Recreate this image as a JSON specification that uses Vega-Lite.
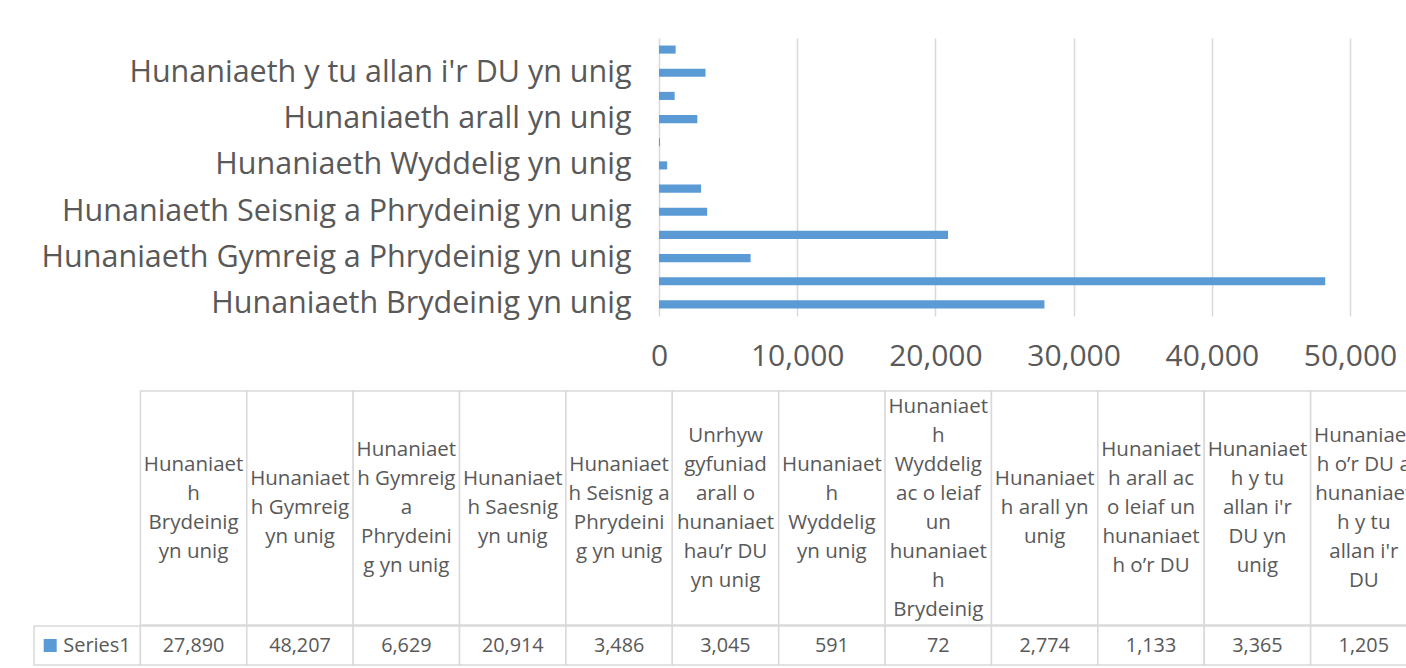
{
  "$schema": "https://vega.github.io/schema/vega-lite/v6.json",
  "padding": {"left": 33, "top": 38, "right": 0, "bottom": 0},
  "config": {
    "view": {"stroke": null},
    "font": "Open Sans"
  },
  "datasets": {
    "main": [
      {"col": 1, "name": "Hunaniaeth Brydeinig yn unig", "header": "Hunaniaet\nh\nBrydeinig\nyn unig", "value": 27890},
      {"col": 2, "name": "Hunaniaeth Gymreig yn unig", "header": "Hunaniaet\nh Gymreig\nyn unig", "value": 48207},
      {"col": 3, "name": "Hunaniaeth Gymreig a Phrydeinig yn unig", "header": "Hunaniaet\nh Gymreig\na\nPhrydeini\ng yn unig", "value": 6629},
      {"col": 4, "name": "Hunaniaeth Saesnig yn unig", "header": "Hunaniaet\nh Saesnig\nyn unig", "value": 20914},
      {"col": 5, "name": "Hunaniaeth Seisnig a Phrydeinig yn unig", "header": "Hunaniaet\nh Seisnig a\nPhrydeini\ng yn unig", "value": 3486},
      {"col": 6, "name": "Unrhyw gyfuniad arall o hunaniaethau’r DU yn unig", "header": "Unrhyw\ngyfuniad\narall o\nhunaniaet\nhau’r DU\nyn unig", "value": 3045},
      {"col": 7, "name": "Hunaniaeth Wyddelig yn unig", "header": "Hunaniaet\nh\nWyddelig\nyn unig", "value": 591},
      {"col": 8, "name": "Hunaniaeth Wyddelig ac o leiaf un hunaniaeth Brydeinig", "header": "Hunaniaet\nh\nWyddelig\nac o leiaf\nun\nhunaniaet\nh\nBrydeinig", "value": 72},
      {"col": 9, "name": "Hunaniaeth arall yn unig", "header": "Hunaniaet\nh arall yn\nunig", "value": 2774},
      {"col": 10, "name": "Hunaniaeth arall ac o leiaf un hunaniaeth o’r DU", "header": "Hunaniaet\nh arall ac\no leiaf un\nhunaniaet\nh o’r DU", "value": 1133},
      {"col": 11, "name": "Hunaniaeth y tu allan i'r DU yn unig", "header": "Hunaniaet\nh y tu\nallan i'r\nDU yn\nunig", "value": 3365},
      {"col": 12, "name": "Hunaniaeth o’r DU a hunaniaeth y tu allan i'r DU", "header": "Hunaniaet\nh o’r DU a\nhunaniaet\nh y tu\nallan i'r\nDU", "value": 1205}
    ]
  },
  "spacing": 19,
  "vconcat": [
    {
      "width": 1316,
      "height": 278,
      "data": {"name": "main"},
      "mark": {"type": "bar", "color": "#5b9bd5"},
      "encoding": {
        "y": {
          "field": "name",
          "type": "nominal",
          "sort": {"field": "col", "order": "descending"},
          "scale": {"paddingInner": 0.65, "paddingOuter": 0.325},
          "axis": {
            "title": null,
            "offset": -625,
            "values": ["Hunaniaeth Brydeinig yn unig", "Hunaniaeth Gymreig a Phrydeinig yn unig", "Hunaniaeth Seisnig a Phrydeinig yn unig", "Hunaniaeth Wyddelig yn unig", "Hunaniaeth arall yn unig", "Hunaniaeth y tu allan i'r DU yn unig"],
            "ticks": false,
            "domain": false,
            "labelFontSize": 30.5,
            "labelColor": "#595959",
            "labelLimit": 1000,
            "labelPadding": 28
          }
        },
        "x": {
          "field": "value",
          "type": "quantitative",
          "scale": {"domain": [0, 50000], "range": [625, 1316]},
          "axis": {
            "title": null,
            "values": [0, 10000, 20000, 30000, 40000, 50000],
            "format": ",d",
            "ticks": false,
            "domain": false,
            "grid": true,
            "gridColor": "#d9d9d9",
            "gridWidth": 1.5,
            "labelFontSize": 30,
            "labelColor": "#595959",
            "labelPadding": 25,
            "labelFlush": false,
            "labelOverlap": false
          }
        }
      }
    },
    {
      "spacing": -1.5,
      "vconcat": [
        {
          "width": 1383,
          "height": 234,
          "encoding": {
            "x": {
              "field": "col",
              "type": "ordinal",
              "scale": {"domain": [0, 1, 2, 3, 4, 5, 6, 7, 8, 9, 10, 11, 12], "paddingInner": 0, "paddingOuter": 0},
              "axis": null
            }
          },
          "layer": [
            {
              "data": {"name": "main"},
              "mark": {"type": "rect", "fill": "#ffffff", "stroke": "#d9d9d9", "strokeWidth": 1.5}
            },
            {
              "data": {"name": "main"},
              "mark": {"type": "text", "lineBreak": "\n", "fontSize": 20.5, "lineHeight": 29, "color": "#595959", "baseline": "middle", "dy": {"expr": "-(length(split(datum.header, '\\n')) - 1) * 14.5"}},
              "encoding": {"text": {"field": "header"}}
            }
          ]
        },
        {
          "width": 1383,
          "height": 39,
          "encoding": {
            "x": {
              "field": "col",
              "type": "ordinal",
              "scale": {"domain": [0, 1, 2, 3, 4, 5, 6, 7, 8, 9, 10, 11, 12], "paddingInner": 0, "paddingOuter": 0},
              "axis": null
            }
          },
          "layer": [
            {
              "data": {"values": [{"col": 0}, {"col": 1}, {"col": 2}, {"col": 3}, {"col": 4}, {"col": 5}, {"col": 6}, {"col": 7}, {"col": 8}, {"col": 9}, {"col": 10}, {"col": 11}, {"col": 12}]},
              "mark": {"type": "rect", "fill": "#ffffff", "stroke": "#d9d9d9", "strokeWidth": 1.5}
            },
            {
              "data": {"name": "main"},
              "mark": {"type": "text", "fontSize": 19.8, "color": "#595959", "baseline": "middle"},
              "encoding": {"text": {"field": "value", "type": "quantitative", "format": ",d"}}
            },
            {
              "data": {"values": [{"col": 0, "label": "Series1"}]},
              "mark": {"type": "text", "fontSize": 20, "color": "#595959", "baseline": "middle", "align": "left", "dx": -24},
              "encoding": {"text": {"field": "label"}}
            },
            {
              "data": {"values": [{"col": 0, "label": "Series1"}]},
              "mark": {"type": "point", "shape": "square", "filled": true, "size": 169, "color": "#5b9bd5", "opacity": 1, "xOffset": -37}
            }
          ]
        }
      ]
    }
  ]
}
